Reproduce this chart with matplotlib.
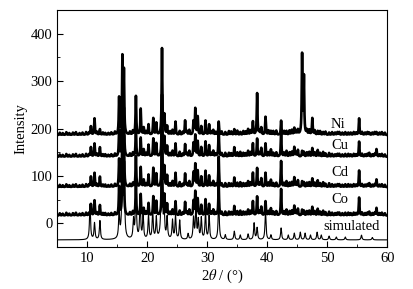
import numpy as np
import matplotlib.pyplot as plt

plt.rcParams['font.family'] = ['Liberation Serif', 'DejaVu Serif']
plt.rcParams['mathtext.fontset'] = 'stix'

# peak positions (2theta) shared by the measured patterns
exp_pos = [10.6, 11.2, 12.1, 13.0, 15.3, 15.85, 16.1, 17.6, 18.1, 18.9, 19.4, 20.2,
           21.0, 21.5, 22.45, 22.85, 23.3, 24.2, 24.7, 25.4, 26.3, 27.0, 27.7, 28.0,
           28.4, 29.0, 29.7, 30.3, 31.0, 31.9, 33.0, 34.5, 35.5, 36.8, 37.6, 38.3,
           39.0, 39.7, 40.6, 42.3, 43.2, 44.5, 45.1, 45.8, 46.1, 47.5, 48.4, 49.3,
           50.3, 52.0, 53.5, 55.3, 57.0, 58.2]

ni_hgt = [18, 35, 12, 4, 78, 160, 130, 8, 82, 55, 15, 22,
          35, 25, 182, 40, 18, 10, 28, 8, 30, 10, 28, 55,
          38, 18, 30, 22, 10, 28, 6, 12, 6, 12, 28, 88,
          15, 38, 8, 30, 8, 14, 10, 168, 120, 35, 8, 6,
          5, 6, 5, 35, 5, 6]
cu_hgt = [20, 28, 20, 5, 55, 120, 95, 8, 62, 40, 15, 25,
          38, 28, 130, 40, 22, 12, 28, 10, 26, 12, 28, 45,
          32, 20, 32, 24, 12, 60, 8, 20, 10, 12, 28, 38,
          18, 28, 15, 52, 12, 20, 14, 12, 10, 18, 14, 10,
          8, 6, 6, 32, 8, 16]
cd_hgt = [22, 30, 22, 5, 58, 125, 100, 8, 65, 42, 15, 26,
          40, 28, 135, 42, 24, 12, 30, 10, 28, 12, 30, 48,
          34, 22, 34, 24, 12, 64, 8, 20, 10, 12, 30, 40,
          18, 30, 15, 55, 12, 20, 14, 12, 10, 18, 14, 10,
          8, 6, 6, 35, 8, 16]
co_hgt = [24, 32, 22, 5, 60, 130, 105, 8, 68, 45, 15, 26,
          40, 30, 140, 42, 24, 12, 30, 10, 28, 12, 30, 50,
          35, 22, 34, 24, 12, 66, 8, 20, 10, 12, 30, 40,
          18, 30, 15, 56, 12, 20, 14, 12, 10, 18, 14, 10,
          8, 6, 6, 38, 8, 16]

# small bumps that give the measured traces their rough look
fine_pos = [5.4, 5.9, 6.5, 7.0, 7.6, 8.1, 8.7, 9.2, 9.8, 10.3, 11.6, 12.6,
            13.5, 14.0, 14.6, 17.1, 19.8, 23.8, 25.9, 26.6, 30.7, 31.4, 32.4,
            33.6, 34.0, 35.0, 36.0, 36.4, 37.2, 38.7, 40.2, 41.0, 41.5, 42.8,
            43.7, 44.1, 44.8, 46.6, 47.0, 47.9, 48.8, 49.7, 50.8, 51.3, 51.7,
            52.5, 53.0, 53.9, 54.4, 54.8, 55.8, 56.3, 56.7, 57.5, 57.9, 58.7,
            59.1, 59.6]
fine_hgt = [5, 4, 6, 4, 5, 6, 4, 5, 6, 5, 6, 5,
            4, 5, 6, 6, 7, 7, 6, 7, 7, 6, 7,
            8, 7, 9, 8, 7, 9, 8, 9, 8, 9, 8,
            9, 10, 8, 9, 10, 9, 8, 7, 6, 5, 6,
            5, 6, 5, 6, 5, 6, 5, 6, 5, 6, 5,
            6, 5]

sim_pos = [10.45, 11.2, 12.1, 15.3, 15.9, 16.2, 17.7, 18.1, 18.8, 19.3, 20.2, 20.9,
           21.5, 22.4, 22.8, 23.3, 24.2, 24.7, 25.4, 26.8, 27.7, 28.1, 28.5, 29.0,
           29.7, 30.3, 31.9, 33.0, 34.5, 35.5, 36.8, 37.8, 38.3, 39.7, 40.6, 42.3,
           43.5, 44.5, 45.5, 46.3, 47.2, 48.3, 49.0, 50.3, 51.5, 53.0, 55.7, 57.5]
sim_hgt = [75, 35, 40, 55, 320, 60, 40, 120, 80, 50, 50, 60,
           45, 260, 55, 45, 40, 50, 40, 12, 45, 70, 40, 45,
           60, 50, 90, 10, 18, 10, 12, 35, 25, 60, 10, 25,
           10, 14, 16, 14, 10, 16, 10, 8, 6, 6, 10, 5]

names = ['Ni', 'Cu', 'Cd', 'Co']
offsets = [186, 140, 76, 16]
sim_offset = -35
label_x = [51.8, 52.1, 52.1, 52.1]
label_y = [209, 164, 107, 51]

x = np.linspace(5, 60, 5000)

def pattern(pos, hgt, w):
    y = np.zeros_like(x)
    for p, h in zip(pos, hgt):
        y += h / (1 + ((x - p) / w) ** 2)
    return y

fine = pattern(fine_pos, fine_hgt, 0.08)

fig = plt.figure(figsize=(4.14, 2.89), dpi=100)
ax = fig.add_axes([0.1384, 0.1453, 0.7971, 0.8201])

for hgt, off in zip([ni_hgt, cu_hgt, cd_hgt, co_hgt], offsets):
    ax.plot(x, pattern(exp_pos, hgt, 0.07) + fine + off, color='black', lw=1.9)
ax.plot(x, pattern(sim_pos, sim_hgt, 0.1) + sim_offset, color='black', lw=0.8)

for n, lx, ly in zip(names, label_x, label_y):
    ax.text(lx, ly, n, ha='center', va='center', fontsize=10.5)
ax.text(54, -6, 'simulated', ha='center', va='center', fontsize=10.5)

ax.set_xlim(5, 60)
ax.set_ylim(-50, 450)
ax.set_xticks([10, 20, 30, 40, 50, 60])
ax.set_xticks(np.arange(5, 61, 5), minor=True)
ax.set_yticks([0, 100, 200, 300, 400])
ax.set_yticks(np.arange(-50, 451, 50), minor=True)
ax.tick_params(which='both', direction='in', top=False, right=False, labelsize=10.5)
ax.tick_params(which='major', length=4)
ax.tick_params(which='minor', length=2.5)
ax.set_xlabel(r'2$\theta$ / (°)', fontsize=10.5, labelpad=2)
ax.set_ylabel('Intensity', fontsize=10.5, labelpad=2)

fig.savefig('out.png', dpi=100)
